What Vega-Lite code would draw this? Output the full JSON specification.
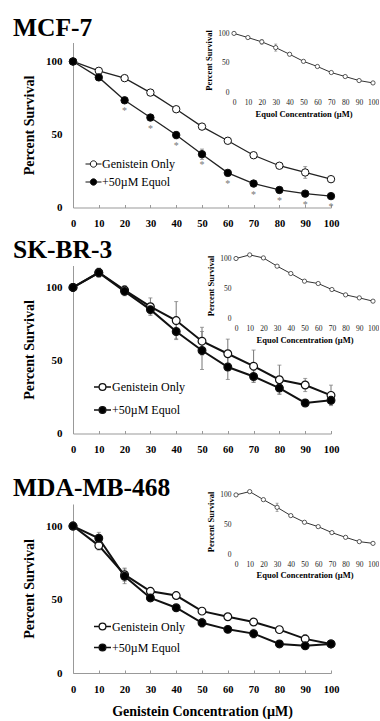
{
  "$schema": "https://vega.github.io/schema/vega-lite/v6.json",
  "padding": {"left": 13, "top": 15.5, "right": 0, "bottom": 0},
  "config": {
    "font": "Liberation Serif",
    "view": {"stroke": null},
    "axis": {"labelFont": "Liberation Serif", "titleFont": "Liberation Serif", "labelColor": "#000", "titleColor": "#000", "grid": false, "labelOverlap": false, "labelFlush": false},
    "legend": {"labelFont": "Liberation Serif", "labelColor": "#000"}
  },
  "datasets": {
    "m1": [
      {"c": 0, "s": "Genistein Only", "v": 100, "e": 0, "sig": ""},
      {"c": 10, "s": "Genistein Only", "v": 93.6, "e": 0, "sig": ""},
      {"c": 20, "s": "Genistein Only", "v": 88.6, "e": 0, "sig": ""},
      {"c": 30, "s": "Genistein Only", "v": 78.7, "e": 0, "sig": ""},
      {"c": 40, "s": "Genistein Only", "v": 67.3, "e": 0, "sig": ""},
      {"c": 50, "s": "Genistein Only", "v": 55.4, "e": 0, "sig": ""},
      {"c": 60, "s": "Genistein Only", "v": 45.7, "e": 0, "sig": ""},
      {"c": 70, "s": "Genistein Only", "v": 35.8, "e": 0, "sig": ""},
      {"c": 80, "s": "Genistein Only", "v": 28.6, "e": 0, "sig": ""},
      {"c": 90, "s": "Genistein Only", "v": 24.0, "e": 4, "sig": ""},
      {"c": 100, "s": "Genistein Only", "v": 19.4, "e": 0, "sig": ""},
      {"c": 0, "s": "+50µM Equol", "v": 100, "e": 0, "sig": ""},
      {"c": 10, "s": "+50µM Equol", "v": 89.1, "e": 0, "sig": ""},
      {"c": 20, "s": "+50µM Equol", "v": 73.4, "e": 0, "sig": "*"},
      {"c": 30, "s": "+50µM Equol", "v": 61.6, "e": 0, "sig": "*"},
      {"c": 40, "s": "+50µM Equol", "v": 49.6, "e": 2.5, "sig": "*"},
      {"c": 50, "s": "+50µM Equol", "v": 36.5, "e": 3.5, "sig": "*"},
      {"c": 60, "s": "+50µM Equol", "v": 23.7, "e": 0, "sig": "*"},
      {"c": 70, "s": "+50µM Equol", "v": 16.4, "e": 0, "sig": "*"},
      {"c": 80, "s": "+50µM Equol", "v": 12.0, "e": 0, "sig": "*"},
      {"c": 90, "s": "+50µM Equol", "v": 9.5, "e": 0, "sig": "*"},
      {"c": 100, "s": "+50µM Equol", "v": 7.8, "e": 0, "sig": "*"}
    ],
    "i1": [
      {"c": 0, "v": 100, "e": 0}, {"c": 10, "v": 93.0, "e": 0}, {"c": 20, "v": 85.7, "e": 4},
      {"c": 30, "v": 76.0, "e": 6}, {"c": 40, "v": 64.7, "e": 0}, {"c": 50, "v": 52.7, "e": 0},
      {"c": 60, "v": 44.0, "e": 0}, {"c": 70, "v": 33.8, "e": 0}, {"c": 80, "v": 27.0, "e": 0},
      {"c": 90, "v": 20.2, "e": 0}, {"c": 100, "v": 16.2, "e": 0}
    ],
    "m2": [
      {"c": 0, "s": "Genistein Only", "v": 100, "e": 0},
      {"c": 10, "s": "Genistein Only", "v": 110.2, "e": 3},
      {"c": 20, "s": "Genistein Only", "v": 98.2, "e": 3},
      {"c": 30, "s": "Genistein Only", "v": 86.8, "e": 6},
      {"c": 40, "s": "Genistein Only", "v": 77.3, "e": 13},
      {"c": 50, "s": "Genistein Only", "v": 63.2, "e": 9.5},
      {"c": 60, "s": "Genistein Only", "v": 54.6, "e": 10},
      {"c": 70, "s": "Genistein Only", "v": 46.1, "e": 11},
      {"c": 80, "s": "Genistein Only", "v": 36.8, "e": 10},
      {"c": 90, "s": "Genistein Only", "v": 33.2, "e": 4.5},
      {"c": 100, "s": "Genistein Only", "v": 26.1, "e": 7},
      {"c": 0, "s": "+50µM Equol", "v": 100, "e": 0},
      {"c": 10, "s": "+50µM Equol", "v": 110.0, "e": 3},
      {"c": 20, "s": "+50µM Equol", "v": 97.3, "e": 3},
      {"c": 30, "s": "+50µM Equol", "v": 84.8, "e": 3},
      {"c": 40, "s": "+50µM Equol", "v": 69.8, "e": 5},
      {"c": 50, "s": "+50µM Equol", "v": 56.8, "e": 13},
      {"c": 60, "s": "+50µM Equol", "v": 45.5, "e": 8.5},
      {"c": 70, "s": "+50µM Equol", "v": 39.0, "e": 4},
      {"c": 80, "s": "+50µM Equol", "v": 31.1, "e": 4},
      {"c": 90, "s": "+50µM Equol", "v": 20.9, "e": 2},
      {"c": 100, "s": "+50µM Equol", "v": 22.7, "e": 3}
    ],
    "i2": [
      {"c": 0, "v": 100, "e": 0}, {"c": 10, "v": 106, "e": 0}, {"c": 20, "v": 101, "e": 0},
      {"c": 30, "v": 87.2, "e": 0}, {"c": 40, "v": 75, "e": 0}, {"c": 50, "v": 62.2, "e": 0},
      {"c": 60, "v": 58.3, "e": 0}, {"c": 70, "v": 48.3, "e": 0}, {"c": 80, "v": 39.4, "e": 0},
      {"c": 90, "v": 34.4, "e": 0}, {"c": 100, "v": 28.9, "e": 0}
    ],
    "m3": [
      {"c": 0, "s": "Genistein Only", "v": 100, "e": 0},
      {"c": 10, "s": "Genistein Only", "v": 86.7, "e": 3},
      {"c": 20, "s": "Genistein Only", "v": 66.9, "e": 4.5},
      {"c": 30, "s": "Genistein Only", "v": 55.6, "e": 0},
      {"c": 40, "s": "Genistein Only", "v": 52.7, "e": 0},
      {"c": 50, "s": "Genistein Only", "v": 42.1, "e": 0},
      {"c": 60, "s": "Genistein Only", "v": 38.3, "e": 0},
      {"c": 70, "s": "Genistein Only", "v": 34.7, "e": 0},
      {"c": 80, "s": "Genistein Only", "v": 29.5, "e": 0},
      {"c": 90, "s": "Genistein Only", "v": 23.2, "e": 3},
      {"c": 100, "s": "Genistein Only", "v": 19.8, "e": 0},
      {"c": 0, "s": "+50µM Equol", "v": 100, "e": 0},
      {"c": 10, "s": "+50µM Equol", "v": 91.7, "e": 4},
      {"c": 20, "s": "+50µM Equol", "v": 65.8, "e": 5},
      {"c": 30, "s": "+50µM Equol", "v": 51.1, "e": 0},
      {"c": 40, "s": "+50µM Equol", "v": 44.4, "e": 0},
      {"c": 50, "s": "+50µM Equol", "v": 34.2, "e": 3},
      {"c": 60, "s": "+50µM Equol", "v": 29.7, "e": 0},
      {"c": 70, "s": "+50µM Equol", "v": 26.8, "e": 3},
      {"c": 80, "s": "+50µM Equol", "v": 19.8, "e": 0},
      {"c": 90, "s": "+50µM Equol", "v": 18.5, "e": 0},
      {"c": 100, "s": "+50µM Equol", "v": 19.8, "e": 0}
    ],
    "i3": [
      {"c": 0, "v": 100, "e": 0}, {"c": 10, "v": 105.6, "e": 0}, {"c": 20, "v": 92, "e": 0},
      {"c": 30, "v": 79, "e": 7}, {"c": 40, "v": 65, "e": 0}, {"c": 50, "v": 53.7, "e": 0},
      {"c": 60, "v": 46.3, "e": 0}, {"c": 70, "v": 36.2, "e": 0}, {"c": 80, "v": 28.2, "e": 0},
      {"c": 90, "v": 20.9, "e": 0}, {"c": 100, "v": 18, "e": 0}
    ]
  },
  "spacing": 8,
  "resolve": {"scale": {"fill": "independent"}, "legend": {"fill": "independent"}},
  "vconcat": [
    {
      "width": 258, "height": 165,
      "title": {"text": "MCF-7", "anchor": "start", "frame": "group", "dx": -60, "offset": -32.5, "baseline": "alphabetic", "fontSize": 25.5, "fontWeight": "bold", "font": "Liberation Serif", "color": "#000"},
      "resolve": {"scale": {"x": "independent", "y": "independent"}, "axis": {"x": "independent", "y": "independent"}},
      "layer": [
        {
          "data": {"name": "m1"},
          "encoding": {
            "x": {"field": "c", "type": "quantitative", "scale": {"domain": [0, 100], "nice": false, "zero": false},
              "axis": {"orient": "bottom", "title": null, "values": [0,10,20,30,40,50,60,70,80,90,100], "domainColor": "#999", "tickColor": "#999", "tickSize": -3, "labelPadding": 14, "labelFontWeight": "bold", "labelFontSize": 10.5}},
            "y": {"field": "v", "type": "quantitative", "scale": {"domain": [0, 113], "nice": false},
              "axis": {"orient": "left", "title": "Percent Survival", "values": [0, 50, 100], "domainColor": "#999", "ticks": false, "labelPadding": 11, "labelFontWeight": "bold", "labelFontSize": 11, "titleFontSize": 14, "titleFontWeight": "bold", "titlePadding": 9}}
          },
          "layer": [
            {"mark": {"type": "line", "color": "#222", "strokeWidth": 1.3}, "encoding": {"detail": {"field": "s"}}},
            {"transform": [{"filter": "datum.e > 0"}], "mark": {"type": "errorbar", "color": "#777", "ticks": {"size": 4}, "thickness": 1}, "encoding": {"yError": {"field": "e"}}},
            {"mark": {"type": "point", "shape": "circle", "filled": true, "stroke": "#111", "strokeWidth": 1, "size": 55, "opacity": 1},
              "encoding": {"fill": {"field": "s", "type": "nominal", "scale": {"domain": ["Genistein Only", "+50µM Equol"], "range": ["white", "black"]},
                "legend": {"orient": "none", "legendX": 12, "legendY": 113, "title": null, "padding": 0, "symbolType": "M-1,0H-0.4M0.4,0H1M-0.4,0A0.4,0.4,0,1,1,0.4,0A0.4,0.4,0,1,1,-0.4,0Z", "symbolSize": 256, "symbolStrokeColor": "#111", "symbolStrokeWidth": 1, "labelFont": "Liberation Serif", "labelFontSize": 12, "labelColor": "#000", "labelOffset": 0, "rowPadding": 3}}}},
            {"mark": {"type": "text", "dy": 14, "baseline": "alphabetic", "fontSize": 10, "color": "#777"}, "encoding": {"text": {"field": "sig"}}}
          ]
        },
        {
          "data": {"name": "i1"},
          "encoding": {
            "x": {"field": "c", "type": "quantitative", "scale": {"domain": [0, 100], "range": [161, 300], "nice": false, "zero": false},
              "axis": {"orient": "bottom", "offset": -115, "domain": false, "ticks": false, "values": [0,10,20,30,40,50,60,70,80,90,100], "labelPadding": 6, "labelFontSize": 7.5, "labelColor": "#222", "title": "Equol Concentration (µM)", "titleFontSize": 8.5, "titleFontWeight": "bold", "titlePadding": 3}},
            "y": {"field": "v", "type": "quantitative", "scale": {"domain": [0, 110], "range": [50, -15], "nice": false},
              "axis": {"orient": "left", "offset": -161, "domain": false, "ticks": false, "values": [0, 50, 100], "labelPadding": 5, "labelFontSize": 7.5, "labelColor": "#222", "title": "Percent Survival", "titleFontSize": 8.5, "titleFontWeight": "bold", "titlePadding": 4}}
          },
          "layer": [
            {"data": {"values": [{}]}, "mark": {"type": "rect", "fillOpacity": 0, "stroke": "#999", "strokeWidth": 1},
              "encoding": {"x": {"datum": 0, "type": "quantitative"}, "x2": {"datum": 100}, "y": {"datum": 0, "type": "quantitative"}, "y2": {"datum": 110}}},
            {"mark": {"type": "line", "color": "#333", "strokeWidth": 1}},
            {"transform": [{"filter": "datum.e > 0"}], "mark": {"type": "errorbar", "color": "#777", "ticks": {"size": 3}, "thickness": 0.8}, "encoding": {"yError": {"field": "e"}}},
            {"mark": {"type": "point", "shape": "circle", "filled": true, "fill": "white", "stroke": "#333", "strokeWidth": 0.8, "size": 18, "opacity": 1}}
          ]
        }
      ]
    },
    {
      "spacing": 19.5,
      "resolve": {"scale": {"fill": "independent"}, "legend": {"fill": "independent"}},
      "vconcat": [
        {
          "width": 258, "height": 168,
          "title": {"text": "SK-BR-3", "anchor": "start", "frame": "group", "dx": -60, "offset": -32.5, "baseline": "alphabetic", "fontSize": 25.5, "fontWeight": "bold", "font": "Liberation Serif", "color": "#000"},
          "resolve": {"scale": {"x": "independent", "y": "independent"}, "axis": {"x": "independent", "y": "independent"}},
          "layer": [
            {
              "data": {"name": "m2"},
              "encoding": {
                "x": {"field": "c", "type": "quantitative", "scale": {"domain": [0, 100], "nice": false, "zero": false},
                  "axis": {"orient": "bottom", "title": null, "values": [0,10,20,30,40,50,60,70,80,90,100], "domainColor": "#999", "tickColor": "#999", "tickSize": -3, "labelPadding": 14, "labelFontWeight": "bold", "labelFontSize": 10.5}},
                "y": {"field": "v", "type": "quantitative", "scale": {"domain": [0, 115], "nice": false},
                  "axis": {"orient": "left", "title": "Percent Survival", "values": [0, 50, 100], "domainColor": "#999", "ticks": false, "labelPadding": 11, "labelFontWeight": "bold", "labelFontSize": 11, "titleFontSize": 14, "titleFontWeight": "bold", "titlePadding": 9}}
              },
              "layer": [
                {"mark": {"type": "line", "color": "#111", "strokeWidth": 2}, "encoding": {"detail": {"field": "s"}}},
                {"transform": [{"filter": "datum.e > 0"}], "mark": {"type": "errorbar", "color": "#777", "ticks": {"size": 4}, "thickness": 1}, "encoding": {"yError": {"field": "e"}}},
                {"mark": {"type": "point", "shape": "circle", "filled": true, "stroke": "#111", "strokeWidth": 1.2, "size": 60, "opacity": 1},
                  "encoding": {"fill": {"field": "s", "type": "nominal", "scale": {"domain": ["Genistein Only", "+50µM Equol"], "range": ["white", "black"]},
                    "legend": {"orient": "none", "legendX": 20, "legendY": 112, "title": null, "padding": 0, "symbolType": "M-1,0H-0.4M0.4,0H1M-0.4,0A0.4,0.4,0,1,1,0.4,0A0.4,0.4,0,1,1,-0.4,0Z", "symbolSize": 289, "symbolStrokeColor": "#111", "symbolStrokeWidth": 1.3, "labelFont": "Liberation Serif", "labelFontSize": 12, "labelColor": "#000", "labelOffset": 0, "rowPadding": 7}}}}
              ]
            },
            {
              "data": {"name": "i2"},
              "encoding": {
                "x": {"field": "c", "type": "quantitative", "scale": {"domain": [0, 100], "range": [163, 300], "nice": false, "zero": false},
                  "axis": {"orient": "bottom", "offset": -115, "domain": false, "ticks": false, "values": [0,10,20,30,40,50,60,70,80,90,100], "labelPadding": 6, "labelFontSize": 7.5, "labelColor": "#222", "title": "Equol Concentration (µM)", "titleFontSize": 8.5, "titleFontWeight": "bold", "titlePadding": 3}},
                "y": {"field": "v", "type": "quantitative", "scale": {"domain": [0, 110], "range": [53, -13], "nice": false},
                  "axis": {"orient": "left", "offset": -163, "domain": false, "ticks": false, "values": [0, 50, 100], "labelPadding": 5, "labelFontSize": 7.5, "labelColor": "#222", "title": "Percent Survival", "titleFontSize": 8.5, "titleFontWeight": "bold", "titlePadding": 4}}
              },
              "layer": [
                {"data": {"values": [{}]}, "mark": {"type": "rect", "fillOpacity": 0, "stroke": "#999", "strokeWidth": 1},
                  "encoding": {"x": {"datum": 0, "type": "quantitative"}, "x2": {"datum": 100}, "y": {"datum": 0, "type": "quantitative"}, "y2": {"datum": 110}}},
                {"mark": {"type": "line", "color": "#333", "strokeWidth": 1}},
                {"mark": {"type": "point", "shape": "circle", "filled": true, "fill": "white", "stroke": "#333", "strokeWidth": 0.8, "size": 18, "opacity": 1}}
              ]
            }
          ]
        },
        {
          "width": 258, "height": 169,
          "title": {"text": "MDA-MB-468", "anchor": "start", "frame": "group", "dx": -60, "offset": -33.5, "baseline": "alphabetic", "fontSize": 25.5, "fontWeight": "bold", "font": "Liberation Serif", "color": "#000"},
          "resolve": {"scale": {"x": "independent", "y": "independent"}, "axis": {"x": "independent", "y": "independent"}},
          "layer": [
            {
              "data": {"name": "m3"},
              "encoding": {
                "x": {"field": "c", "type": "quantitative", "scale": {"domain": [0, 100], "nice": false, "zero": false},
                  "axis": {"orient": "bottom", "title": "Genistein Concentration (µM)", "values": [0,10,20,30,40,50,60,70,80,90,100], "domainColor": "#999", "tickColor": "#999", "tickSize": -3, "labelPadding": 14, "labelFontWeight": "bold", "labelFontSize": 10.5, "titleFontSize": 14, "titleFontWeight": "bold", "titlePadding": 10}},
                "y": {"field": "v", "type": "quantitative", "scale": {"domain": [0, 115], "nice": false},
                  "axis": {"orient": "left", "title": "Percent Survival", "values": [0, 50, 100], "domainColor": "#999", "ticks": false, "labelPadding": 11, "labelFontWeight": "bold", "labelFontSize": 11, "titleFontSize": 14, "titleFontWeight": "bold", "titlePadding": 9}}
              },
              "layer": [
                {"mark": {"type": "line", "color": "#111", "strokeWidth": 2}, "encoding": {"detail": {"field": "s"}}},
                {"transform": [{"filter": "datum.e > 0"}], "mark": {"type": "errorbar", "color": "#777", "ticks": {"size": 4}, "thickness": 1}, "encoding": {"yError": {"field": "e"}}},
                {"mark": {"type": "point", "shape": "circle", "filled": true, "stroke": "#111", "strokeWidth": 1.2, "size": 60, "opacity": 1},
                  "encoding": {"fill": {"field": "s", "type": "nominal", "scale": {"domain": ["Genistein Only", "+50µM Equol"], "range": ["white", "black"]},
                    "legend": {"orient": "none", "legendX": 20, "legendY": 113, "title": null, "padding": 0, "symbolType": "M-1,0H-0.4M0.4,0H1M-0.4,0A0.4,0.4,0,1,1,0.4,0A0.4,0.4,0,1,1,-0.4,0Z", "symbolSize": 289, "symbolStrokeColor": "#111", "symbolStrokeWidth": 1.3, "labelFont": "Liberation Serif", "labelFontSize": 12, "labelColor": "#000", "labelOffset": 0, "rowPadding": 5}}}}
              ]
            },
            {
              "data": {"name": "i3"},
              "encoding": {
                "x": {"field": "c", "type": "quantitative", "scale": {"domain": [0, 100], "range": [163, 300], "nice": false, "zero": false},
                  "axis": {"orient": "bottom", "offset": -119, "domain": false, "ticks": false, "values": [0,10,20,30,40,50,60,70,80,90,100], "labelPadding": 6, "labelFontSize": 7.5, "labelColor": "#222", "title": "Equol Concentration (µM)", "titleFontSize": 8.5, "titleFontWeight": "bold", "titlePadding": 3}},
                "y": {"field": "v", "type": "quantitative", "scale": {"domain": [0, 110], "range": [50, -15], "nice": false},
                  "axis": {"orient": "left", "offset": -163, "domain": false, "ticks": false, "values": [0, 50, 100], "labelPadding": 5, "labelFontSize": 7.5, "labelColor": "#222", "title": "Percent Survival", "titleFontSize": 8.5, "titleFontWeight": "bold", "titlePadding": 4}}
              },
              "layer": [
                {"data": {"values": [{}]}, "mark": {"type": "rect", "fillOpacity": 0, "stroke": "#999", "strokeWidth": 1},
                  "encoding": {"x": {"datum": 0, "type": "quantitative"}, "x2": {"datum": 100}, "y": {"datum": 0, "type": "quantitative"}, "y2": {"datum": 110}}},
                {"mark": {"type": "line", "color": "#333", "strokeWidth": 1}},
                {"transform": [{"filter": "datum.e > 0"}], "mark": {"type": "errorbar", "color": "#777", "ticks": {"size": 3}, "thickness": 0.8}, "encoding": {"yError": {"field": "e"}}},
                {"mark": {"type": "point", "shape": "circle", "filled": true, "fill": "white", "stroke": "#333", "strokeWidth": 0.8, "size": 18, "opacity": 1}}
              ]
            }
          ]
        }
      ]
    }
  ]
}
